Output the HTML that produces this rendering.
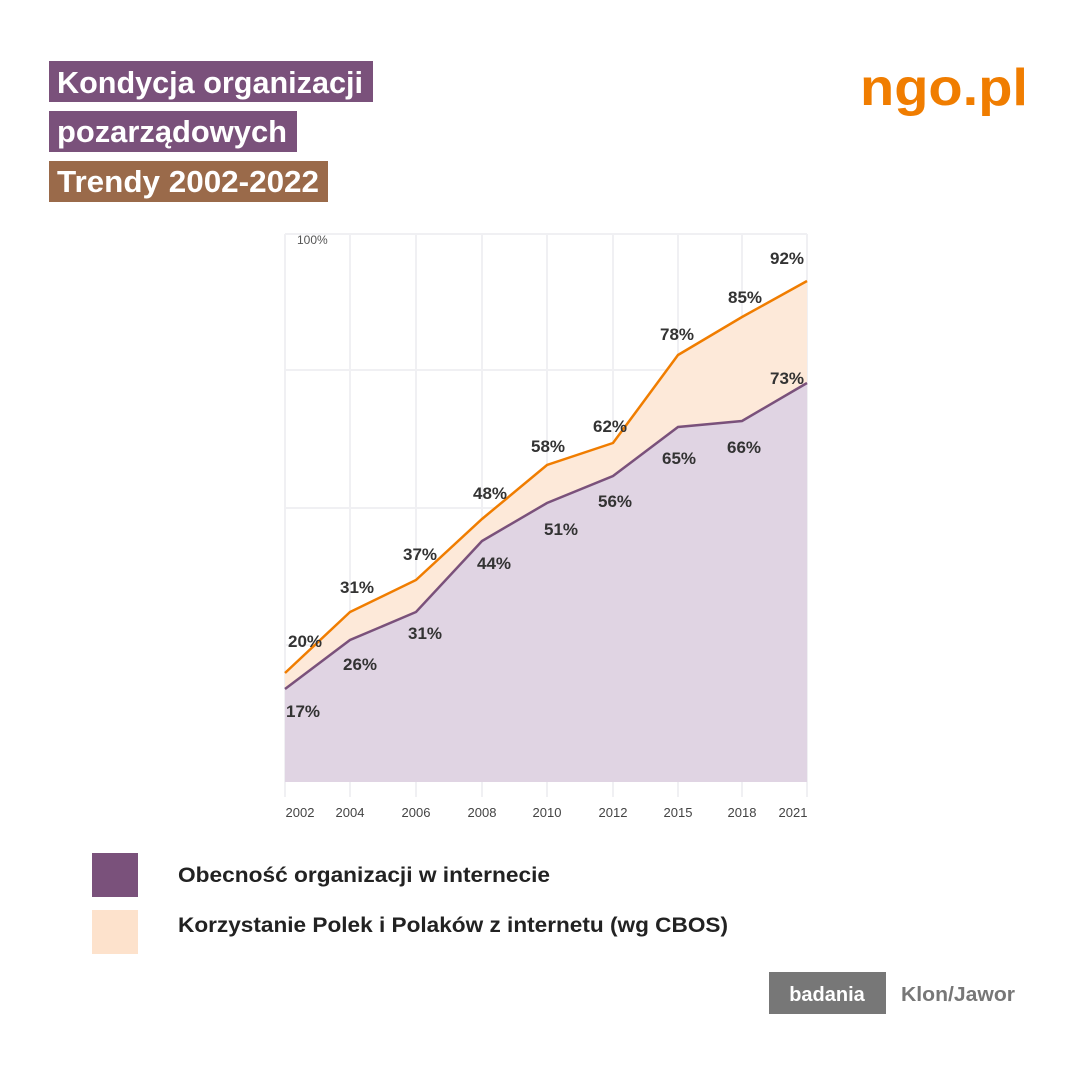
<!DOCTYPE html>
<html><head><meta charset="utf-8"><style>html,body{margin:0;padding:0;background:#fff}</style></head>
<body>
<svg width="1080" height="1080" viewBox="0 0 1080 1080" xmlns="http://www.w3.org/2000/svg" font-family="'Liberation Sans', sans-serif">
<rect width="1080" height="1080" fill="#fff"/>
<rect x="49" y="61" width="324" height="41" fill="#7a517b"/>
<rect x="49" y="111" width="248" height="41" fill="#7a517b"/>
<rect x="49" y="161" width="279" height="41" fill="#9a6a4a"/>
<g fill="#fff" font-weight="bold" font-size="31">
<text x="57" y="93" textLength="306" lengthAdjust="spacingAndGlyphs">Kondycja organizacji</text>
<text x="57" y="142" textLength="230" lengthAdjust="spacingAndGlyphs">pozarządowych</text>
<text x="57" y="192" textLength="262" lengthAdjust="spacingAndGlyphs">Trendy 2002-2022</text>
</g>
<text x="860" y="105" fill="#f07d00" font-weight="bold" font-size="52" textLength="168" lengthAdjust="spacingAndGlyphs">ngo.pl</text>
<g stroke="#f0f0f3" stroke-width="2">
<line x1="285" y1="234" x2="807" y2="234"/>
<line x1="285" y1="370" x2="807" y2="370"/>
<line x1="285" y1="508" x2="807" y2="508"/>
<line x1="285" y1="645" x2="807" y2="645"/>
<line x1="285" y1="234" x2="285" y2="797"/>
<line x1="350" y1="234" x2="350" y2="797"/>
<line x1="416" y1="234" x2="416" y2="797"/>
<line x1="482" y1="234" x2="482" y2="797"/>
<line x1="547" y1="234" x2="547" y2="797"/>
<line x1="613" y1="234" x2="613" y2="797"/>
<line x1="678" y1="234" x2="678" y2="797"/>
<line x1="742" y1="234" x2="742" y2="797"/>
<line x1="807" y1="234" x2="807" y2="797"/>
</g>
<text x="297" y="244" font-size="12" fill="#555">100%</text>
<polygon fill="#fde9d9" points="285,673 350,612 416,580 482,519 547,465 613,443 678,355 742,317 807,281 807,782 285,782"/>
<polygon fill="#e0d4e3" points="285,689 350,640 416,612 482,541 547,503 613,476 678,427 742,421 807,383 807,782 285,782"/>
<polyline fill="none" stroke="#f07d00" stroke-width="2.5" points="285,673 350,612 416,580 482,519 547,465 613,443 678,355 742,317 807,281"/>
<polyline fill="none" stroke="#7a517b" stroke-width="2.5" points="285,689 350,640 416,612 482,541 547,503 613,476 678,427 742,421 807,383"/>
<g font-size="17" font-weight="bold" fill="#333" text-anchor="middle">
<text x="305" y="647">20%</text><text x="357" y="593">31%</text><text x="420" y="560">37%</text>
<text x="490" y="499">48%</text><text x="548" y="452">58%</text><text x="610" y="432">62%</text>
<text x="677" y="340">78%</text><text x="745" y="303">85%</text><text x="787" y="264">92%</text>
<text x="303" y="717">17%</text><text x="360" y="670">26%</text><text x="425" y="639">31%</text>
<text x="494" y="569">44%</text><text x="561" y="535">51%</text><text x="615" y="507">56%</text>
<text x="679" y="464">65%</text><text x="744" y="453">66%</text><text x="787" y="384">73%</text>
</g>
<g font-size="13" fill="#444" text-anchor="middle">
<text x="300" y="817">2002</text><text x="350" y="817">2004</text><text x="416" y="817">2006</text>
<text x="482" y="817">2008</text><text x="547" y="817">2010</text><text x="613" y="817">2012</text>
<text x="678" y="817">2015</text><text x="742" y="817">2018</text><text x="793" y="817">2021</text>
</g>
<rect x="92" y="853" width="46" height="44" fill="#7a517b"/>
<rect x="92" y="910" width="46" height="44" fill="#fde2cc"/>
<g font-size="21" font-weight="bold" fill="#222">
<text x="178" y="882" textLength="372" lengthAdjust="spacingAndGlyphs">Obecność organizacji w internecie</text>
<text x="178" y="932" textLength="550" lengthAdjust="spacingAndGlyphs">Korzystanie Polek i Polaków z internetu (wg CBOS)</text>
</g>
<rect x="769" y="972" width="117" height="42" fill="#777"/>
<text x="827" y="1001" text-anchor="middle" font-size="20" font-weight="bold" fill="#fff">badania</text>
<text x="901" y="1001" font-size="20" font-weight="bold" fill="#777" textLength="114" lengthAdjust="spacingAndGlyphs">Klon/Jawor</text>
</svg>
</body></html>
